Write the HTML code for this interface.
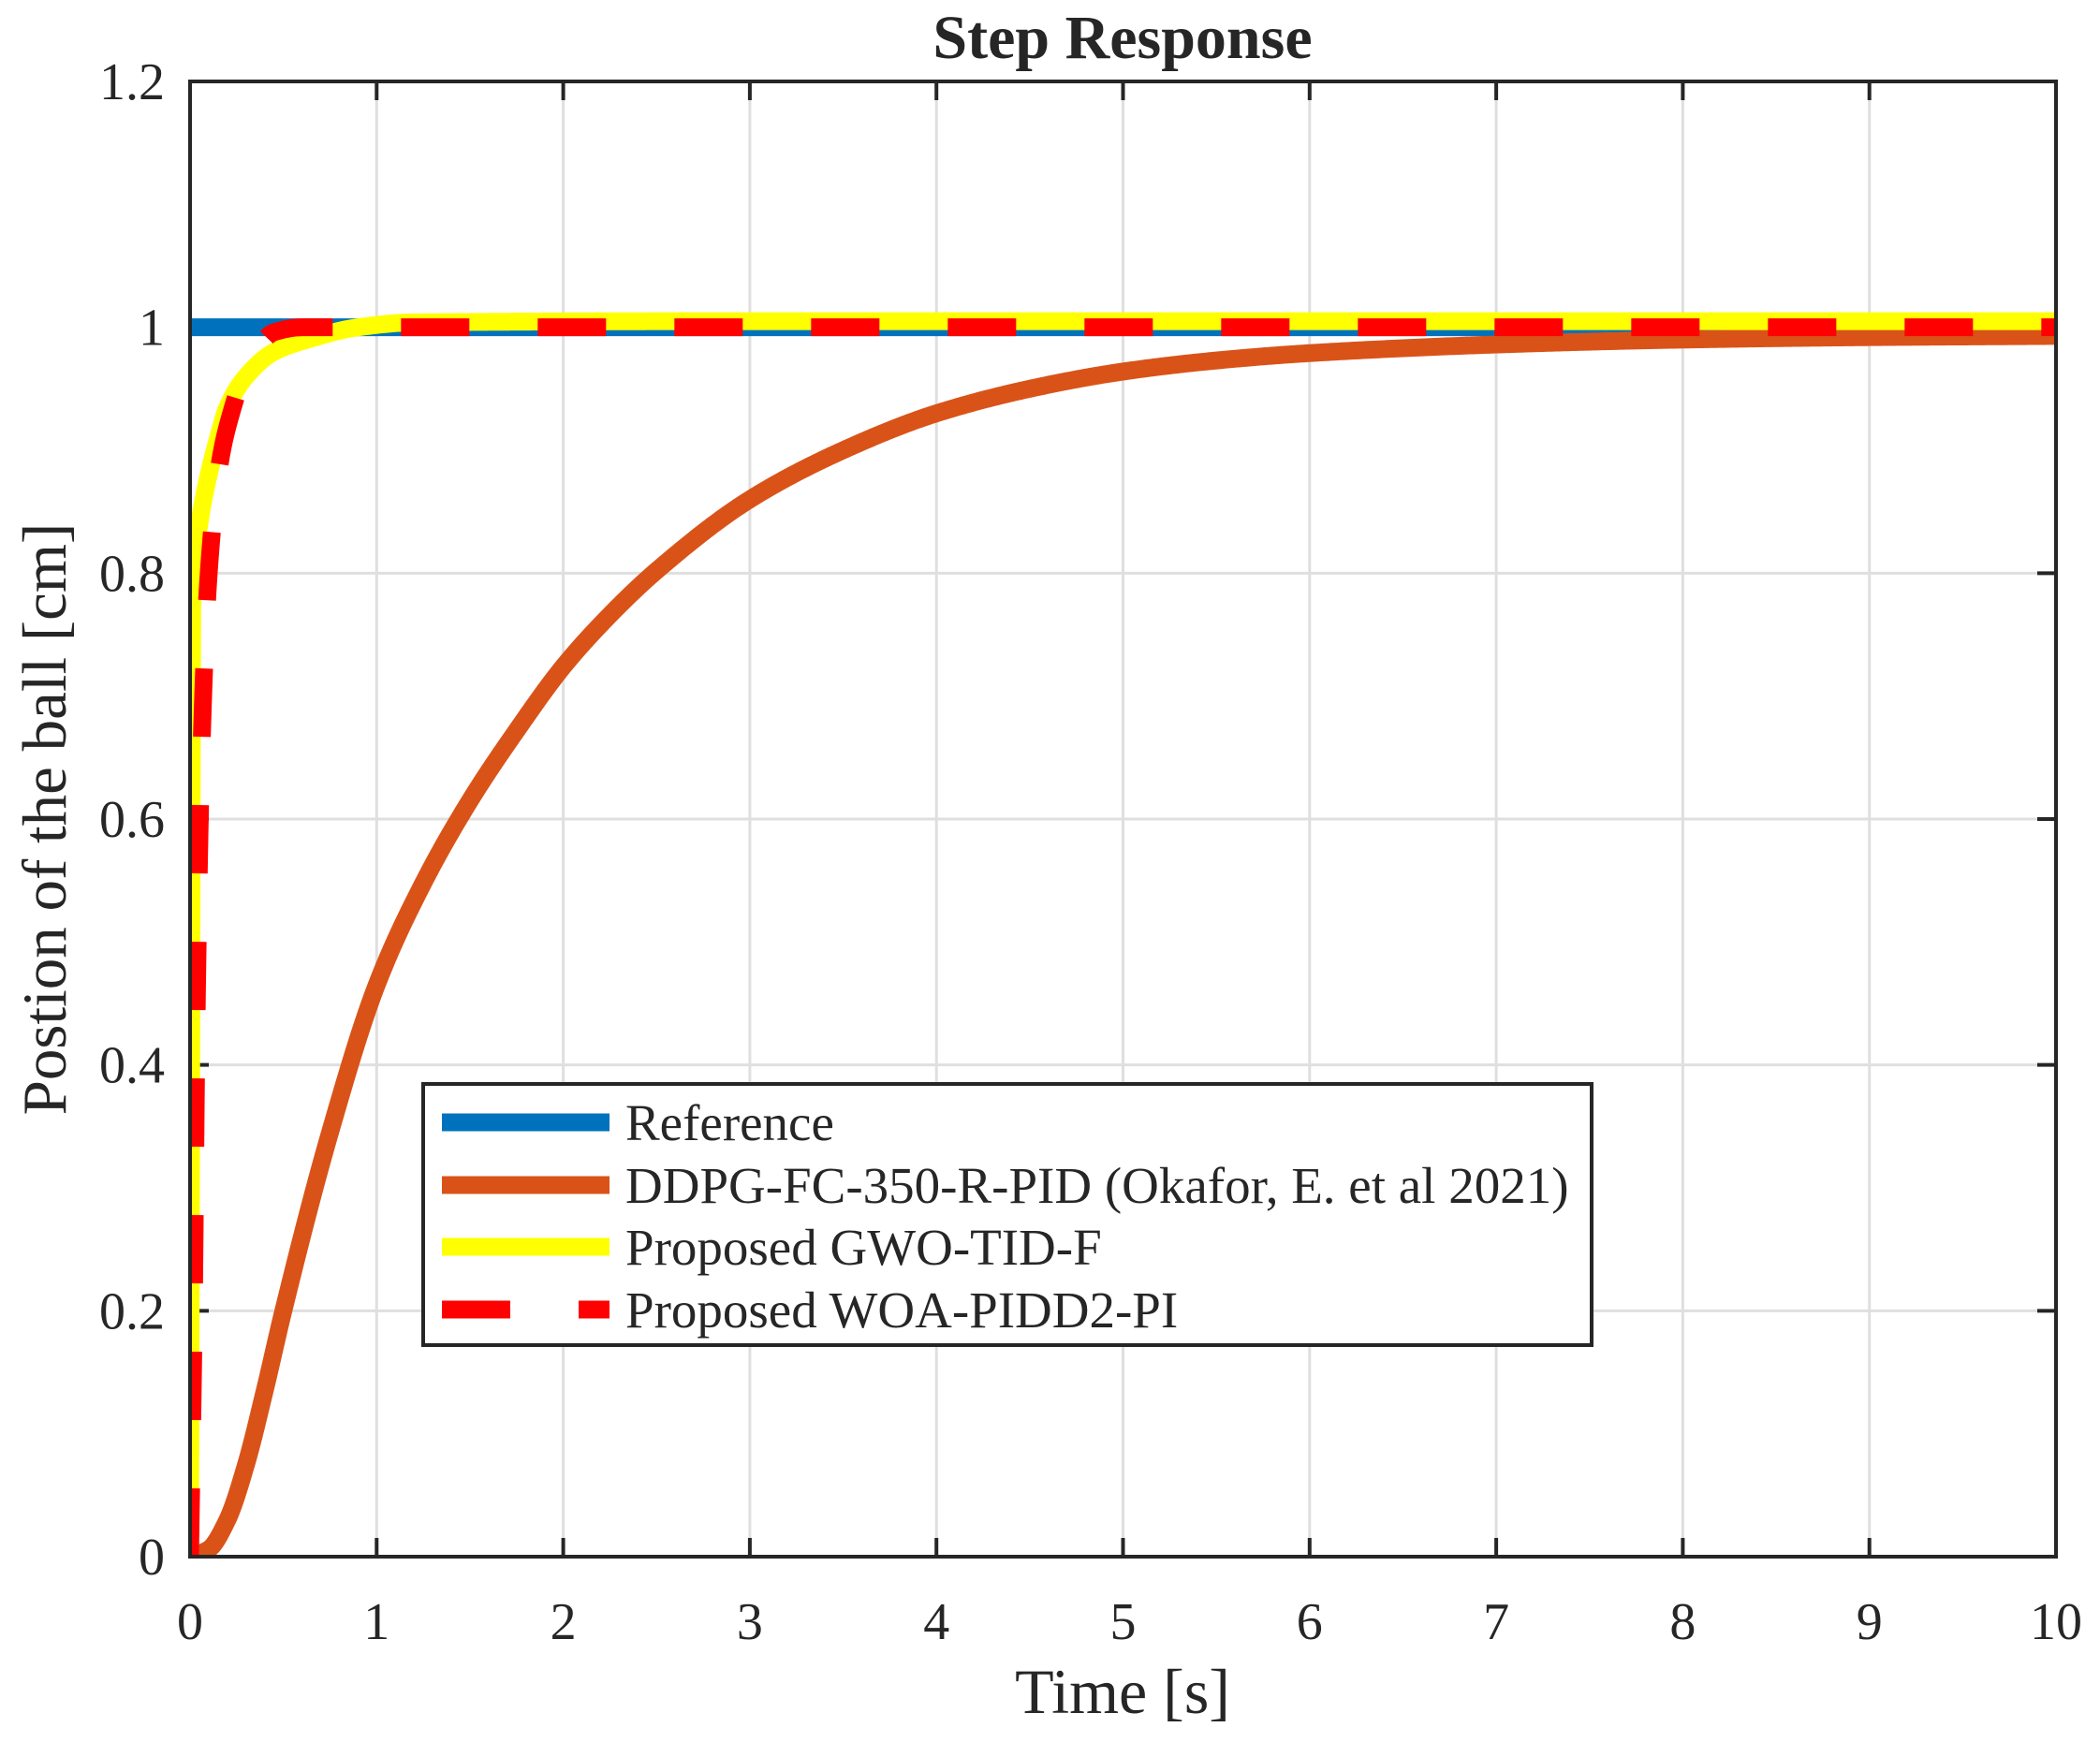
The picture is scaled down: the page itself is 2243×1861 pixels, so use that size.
<!DOCTYPE html>
<html><head><meta charset="utf-8"><style>
html,body{margin:0;padding:0;background:#fff}
svg text{font-family:"Liberation Serif",serif;fill:#262626}
</style></head><body>
<svg id="s" width="2243" height="1856" xmlns="http://www.w3.org/2000/svg">
<rect width="2243" height="1856" fill="#fff"/>
<defs><clipPath id="c"><rect x="203" y="87" width="1993" height="1576"/></clipPath></defs>
<g id="grid" stroke="#dfdfdf" stroke-width="3"></g>
<g id="ticks" stroke="#262626" stroke-width="4"></g>
<g id="series" clip-path="url(#c)" fill="none" stroke-linejoin="round"></g>
<rect x="203" y="87" width="1993" height="1576" fill="none" stroke="#262626" stroke-width="4"/>
<g id="labels" font-size="56"></g>
<text x="1199" y="62" font-size="66" font-weight="bold" text-anchor="middle">Step Response</text>
<text x="1199" y="1830" font-size="68" text-anchor="middle">Time [s]</text>
<text transform="translate(70,875) rotate(-90)" font-size="67" text-anchor="middle">Postion of the ball [cm]</text>
<rect x="452" y="1158" width="1248" height="279" fill="#fff" stroke="#262626" stroke-width="4"/>
<line x1="472" y1="1199" x2="651" y2="1199" stroke="#0072bd" stroke-width="19"/>
<line x1="472" y1="1266" x2="651" y2="1266" stroke="#d95319" stroke-width="19"/>
<line x1="472" y1="1332" x2="651" y2="1332" stroke="#ffff00" stroke-width="19"/>
<line x1="472" y1="1399" x2="651" y2="1399" stroke="#ff0000" stroke-width="19" stroke-dasharray="73 73"/>
<g font-size="55">
<text x="668" y="1218">Reference</text>
<text x="668" y="1285">DDPG-FC-350-R-PID (Okafor, E. et al 2021)</text>
<text x="668" y="1351">Proposed GWO-TID-F</text>
<text x="668" y="1418">Proposed WOA-PIDD2-PI</text>
</g>
</svg>
<script>
var NS="http://www.w3.org/2000/svg";
var L=203,R=2196,T=87,B=1663;
function X(t){return L+(R-L)*t/10}
function Y(v){return B-(B-T)*v/1.2}
function el(p,tag,a,txt){var e=document.createElementNS(NS,tag);for(var k in a)e.setAttribute(k,a[k]);if(txt!=null)e.textContent=txt;document.getElementById(p).appendChild(e);return e}
for(var i=0;i<=10;i++){var x=X(i);
 if(i>0&&i<10)el("grid","line",{x1:x,y1:T,x2:x,y2:B});
 el("ticks","line",{x1:x,y1:B,x2:x,y2:B-20});el("ticks","line",{x1:x,y1:T,x2:x,y2:T+20});
 el("labels","text",{x:x,y:1751,"text-anchor":"middle"},String(i));}
var yl=["0","0.2","0.4","0.6","0.8","1","1.2"];
for(var j=0;j<=6;j++){var y=Y(j*0.2);
 if(j>0&&j<6)el("grid","line",{x1:L,y1:y,x2:R,y2:y});
 el("ticks","line",{x1:L,y1:y,x2:L+20,y2:y});el("ticks","line",{x1:R,y1:y,x2:R-20,y2:y});
 el("labels","text",{x:176,y:y+19,"text-anchor":"end"},yl[j]);}
function mono(pts){var n=pts.length,xs=pts.map(p=>p[0]),ys=pts.map(p=>p[1]),d=[],m=[];
 for(var i=0;i<n-1;i++)d.push((ys[i+1]-ys[i])/(xs[i+1]-xs[i]));
 m[0]=d[0];m[n-1]=d[n-2];
 for(var i=1;i<n-1;i++){if(d[i-1]*d[i]<=0)m[i]=0;else{var h0=xs[i]-xs[i-1],h1=xs[i+1]-xs[i];var w1=2*h1+h0,w2=h1+2*h0;m[i]=(w1+w2)/(w1/d[i-1]+w2/d[i]);}}
 var s="";
 for(var i=0;i<n-1;i++){var h=xs[i+1]-xs[i];var N=Math.max(4,Math.ceil((X(xs[i+1])-X(xs[i])+Math.abs(Y(ys[i+1])-Y(ys[i])))/3));
  for(var k=(i==0?0:1);k<=N;k++){var t=k/N,t2=t*t,t3=t2*t;
   var v=(2*t3-3*t2+1)*ys[i]+(t3-2*t2+t)*h*m[i]+(-2*t3+3*t2)*ys[i+1]+(t3-t2)*h*m[i+1];
   var xx=xs[i]+t*h;s+=(s?" L":"M")+X(xx).toFixed(2)+","+Y(v).toFixed(2);}}
 return s;}
el("series","path",{d:"M"+X(0)+","+Y(1)+" L"+X(10)+","+Y(1),stroke:"#0072bd","stroke-width":19});
el("series","path",{d:mono([[0,0],[0.1,0.006],[0.2,0.03],[0.3,0.075],[0.4,0.135],[0.5,0.2],[0.75,0.345],[1,0.465],[1.25,0.548],[1.5,0.615],[1.75,0.672],[2,0.724],[2.25,0.766],[2.5,0.802],[3,0.86],[3.5,0.90],[4,0.93],[4.5,0.95],[5,0.964],[5.5,0.973],[6,0.979],[7,0.986],[8,0.99],[9,0.992],[10,0.993]]),stroke:"#d95319","stroke-width":19});
el("series","path",{d:mono([[0,0],[0.006,0.4],[0.012,0.78],[0.05,0.84],[0.1,0.88],[0.15,0.91],[0.2,0.935],[0.3,0.96],[0.45,0.98],[0.63,0.99],[0.9,1.0],[1.2,1.004],[3,1.005],[10,1.005]]),stroke:"#ffff00","stroke-width":19});
el("series","path",{d:mono([[0,0],[0.02,0.2],[0.036,0.45],[0.06,0.65],[0.1,0.8],[0.16,0.89],[0.22,0.93],[0.3,0.965],[0.45,0.996],[0.6,1.0],[10,1.0]]),stroke:"#ff0000","stroke-width":19,"stroke-dasharray":"73 73"});
</script>
</body></html>
